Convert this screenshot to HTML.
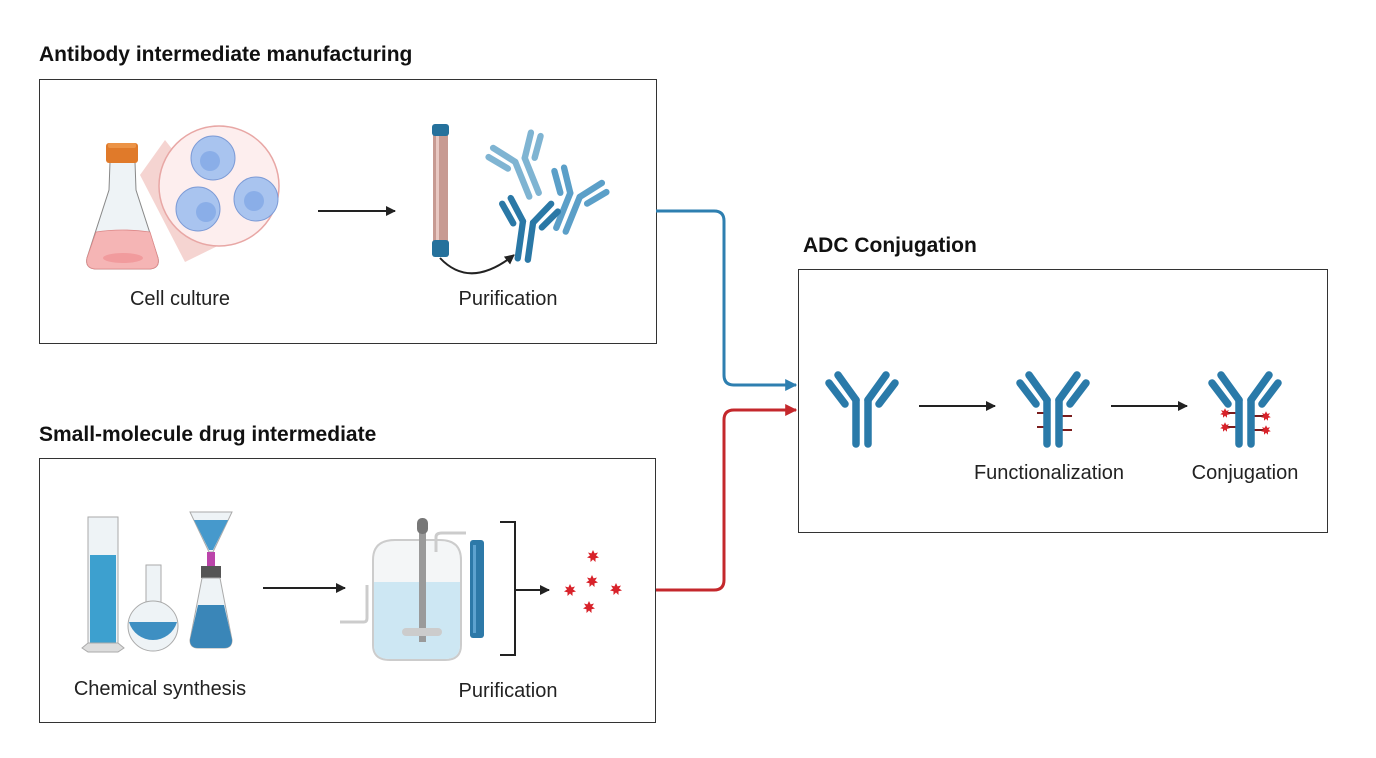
<!DOCTYPE html>
<html><head><meta charset="utf-8"><style>
html,body{margin:0;padding:0;background:#fff;}
svg{display:block;font-family:"Liberation Sans",sans-serif;}
</style></head><body>
<svg width="1376" height="758" viewBox="0 0 1376 758" xmlns="http://www.w3.org/2000/svg">
<defs>
<g id="ab">
  <line x1="-6" y1="0" x2="-6" y2="44" stroke-width="7.5" stroke-linecap="round"/>
  <line x1="6" y1="0" x2="6" y2="44" stroke-width="7.5" stroke-linecap="round"/>
  <line x1="-6" y1="0" x2="-24" y2="-25" stroke-width="7.5" stroke-linecap="round"/>
  <line x1="6" y1="0" x2="24" y2="-25" stroke-width="7.5" stroke-linecap="round"/>
  <line x1="-33" y1="-17" x2="-17" y2="4" stroke-width="7.5" stroke-linecap="round"/>
  <line x1="33" y1="-17" x2="17" y2="4" stroke-width="7.5" stroke-linecap="round"/>
</g>
<g id="star">
  <polygon points="0,-6 1.6,-2.6 5,-3.5 3,-0.5 6,1.5 2.5,2.3 2.5,6 0,3.5 -2.5,6 -2.5,2.3 -6,1.5 -3,-0.5 -5,-3.5 -1.6,-2.6" fill="#d8222a"/>
</g>
<marker id="ah" viewBox="0 0 10 10" refX="9" refY="5" markerWidth="10" markerHeight="10" markerUnits="userSpaceOnUse" orient="auto"><path d="M0,0 L10,5 L0,10 z" fill="#222"/></marker>
<marker id="ahb" viewBox="0 0 10 10" refX="9" refY="5" markerWidth="12" markerHeight="12" markerUnits="userSpaceOnUse" orient="auto"><path d="M0,0 L10,5 L0,10 z" fill="#2e7fb0"/></marker>
<marker id="ahr" viewBox="0 0 10 10" refX="9" refY="5" markerWidth="12" markerHeight="12" markerUnits="userSpaceOnUse" orient="auto"><path d="M0,0 L10,5 L0,10 z" fill="#c4282c"/></marker>
</defs>

<!-- titles -->
<text x="39" y="61" font-size="21" font-weight="bold" fill="#111">Antibody intermediate manufacturing</text>
<text x="803" y="252" font-size="21" font-weight="bold" fill="#111">ADC Conjugation</text>
<text x="39" y="441" font-size="21" font-weight="bold" fill="#111">Small-molecule drug intermediate</text>

<!-- boxes -->
<rect x="39.5" y="79.5" width="617" height="264" fill="none" stroke="#333" stroke-width="1"/>
<rect x="39.5" y="458.5" width="616" height="264" fill="none" stroke="#333" stroke-width="1"/>
<rect x="798.5" y="269.5" width="529" height="263" fill="none" stroke="#333" stroke-width="1"/>

<!-- connectors -->
<path d="M656,211 H714 Q724,211 724,221 V375 Q724,385 734,385 H796" fill="none" stroke="#2e7fb0" stroke-width="3" marker-end="url(#ahb)"/>
<path d="M656,590 H714 Q724,590 724,580 V420 Q724,410 734,410 H796" fill="none" stroke="#c4282c" stroke-width="3" marker-end="url(#ahr)"/>

<!-- Box1: flask -->
<polygon points="140,175 165,140 240,235 185,262" fill="#f2c9c6" opacity="0.8"/>
<circle cx="219" cy="186" r="60" fill="#fdeeee" stroke="#e8a7a5" stroke-width="1.5"/>
<circle cx="213" cy="158" r="22" fill="#a9c4ef" stroke="#7d9bd6"/><circle cx="210" cy="161" r="10" fill="#8aaee8"/>
<circle cx="198" cy="209" r="22" fill="#a9c4ef" stroke="#7d9bd6"/><circle cx="206" cy="212" r="10" fill="#8aaee8"/>
<circle cx="256" cy="199" r="22" fill="#a9c4ef" stroke="#7d9bd6"/><circle cx="254" cy="201" r="10" fill="#8aaee8"/>
<path d="M110,162 L135,162 L136,190 L158,258 Q160,268 150,269 L95,269 Q85,268 87,258 L109,190 Z" fill="#eef3f6" stroke="#888" stroke-width="1"/>
<path d="M96,232 Q122,228 150,232 L158,258 Q160,268 150,269 L95,269 Q85,268 87,258 Z" fill="#f5b5b5" stroke="#d88" stroke-width="0.8"/>
<ellipse cx="123" cy="258" rx="20" ry="5" fill="#f19b9d"/>
<rect x="106" y="143" width="32" height="20" rx="3" fill="#e07a2a"/>
<rect x="108" y="143" width="28" height="5" rx="2" fill="#ec9346"/>
<!-- arrow -->
<line x1="318" y1="211" x2="395" y2="211" stroke="#222" stroke-width="2" marker-end="url(#ah)"/>
<!-- column -->
<rect x="433" y="132" width="15" height="112" fill="#c79a92"/>
<rect x="436" y="132" width="3" height="112" fill="#e8c8c2"/>
<rect x="432" y="124" width="17" height="12" rx="3" fill="#25719c"/>
<rect x="432" y="240" width="17" height="17" rx="3" fill="#25719c"/>
<path d="M440,258 Q470,290 514,255" fill="none" stroke="#222" stroke-width="2" marker-end="url(#ah)"/>
<g stroke="#7fb4d2"><use href="#ab" transform="translate(520,160) rotate(-22) scale(0.85)"/></g>
<g stroke="#5b9fc8"><use href="#ab" transform="translate(575,195) rotate(22) scale(0.85)"/></g>
<g stroke="#2a78a6"><use href="#ab" transform="translate(528,222) rotate(8) scale(0.85)"/></g>
<text x="180" y="305" font-size="20" fill="#222" text-anchor="middle">Cell culture</text>
<text x="508" y="305" font-size="20" fill="#222" text-anchor="middle">Purification</text>

<!-- Box2 -->
<rect x="88" y="517" width="30" height="128" fill="#eef3f6" stroke="#aaa"/>
<rect x="90" y="555" width="26" height="88" fill="#3da0cf"/>
<path d="M82,648 L88,643 L118,643 L124,648 L118,652 L88,652 Z" fill="#ddd" stroke="#aaa"/>
<rect x="146" y="565" width="15" height="40" fill="#eef3f6" stroke="#aaa"/>
<circle cx="153" cy="626" r="25" fill="#eef3f6" stroke="#aaa"/>
<path d="M129,622 H177 A25,25 0 0 1 129,622 Z" fill="#3e8fc2"/>
<path d="M190,512 H232 L213,552 H209 Z" fill="#eef3f6" stroke="#aaa"/>
<path d="M194,520 H228 L213,550 H209 Z" fill="#4699cc"/>
<rect x="207" y="552" width="8" height="14" fill="#b4a"/>
<rect x="201" y="566" width="20" height="12" fill="#555"/>
<path d="M202,578 H220 L232,640 Q232,648 224,648 H198 Q190,648 190,640 Z" fill="#eef3f6" stroke="#aaa"/>
<path d="M198,605 H224 L232,640 Q232,648 224,648 H198 Q190,648 190,640 Z" fill="#3a86b8"/>
<line x1="263" y1="588" x2="345" y2="588" stroke="#222" stroke-width="2" marker-end="url(#ah)"/>
<!-- reactor -->
<path d="M373,560 Q373,540 395,540 H440 Q461,540 461,560 V645 Q461,660 445,660 H390 Q373,660 373,645 Z" fill="#f4f6f7" stroke="#ccc" stroke-width="2"/>
<path d="M374,582 H460 V645 Q460,659 445,659 H390 Q374,659 374,645 Z" fill="#cde7f3"/>
<rect x="419" y="522" width="7" height="120" fill="#9a9a9a"/>
<rect x="417" y="518" width="11" height="16" rx="5" fill="#777"/>
<rect x="402" y="628" width="40" height="8" rx="4" fill="#ccc"/>
<path d="M436,552 V537 Q436,533 442,533 H466" fill="none" stroke="#ccc" stroke-width="3"/>
<path d="M340,622 H364 Q367,622 367,618 V585" fill="none" stroke="#ccc" stroke-width="3"/>
<rect x="470" y="540" width="14" height="98" rx="3" fill="#2d79a8"/>
<rect x="473" y="545" width="3" height="88" fill="#5da2cf"/>
<path d="M500,522 H515 V655 H500" fill="none" stroke="#222" stroke-width="2"/>
<line x1="515" y1="590" x2="549" y2="590" stroke="#222" stroke-width="2" marker-end="url(#ah)"/>
<use href="#star" transform="translate(593,556)"/>
<use href="#star" transform="translate(592,581)"/>
<use href="#star" transform="translate(570,590)"/>
<use href="#star" transform="translate(616,589)"/>
<use href="#star" transform="translate(589,607)"/>
<text x="160" y="695" font-size="20" fill="#222" text-anchor="middle">Chemical synthesis</text>
<text x="508" y="697" font-size="20" fill="#222" text-anchor="middle">Purification</text>

<!-- ADC -->
<g stroke="#2a7aa9"><use href="#ab" transform="translate(862,400)"/></g>
<line x1="919" y1="406" x2="995" y2="406" stroke="#222" stroke-width="2" marker-end="url(#ah)"/>
<g stroke="#7a1c1c" stroke-width="2"><line x1="1037" y1="413" x2="1047" y2="413"/><line x1="1037" y1="427" x2="1047" y2="427"/><line x1="1059" y1="416" x2="1072" y2="416"/><line x1="1059" y1="430" x2="1072" y2="430"/></g>
<g stroke="#2a7aa9"><use href="#ab" transform="translate(1053,400)"/></g>
<line x1="1111" y1="406" x2="1187" y2="406" stroke="#222" stroke-width="2" marker-end="url(#ah)"/>
<g stroke="#7a1c1c" stroke-width="2"><line x1="1227" y1="413" x2="1239" y2="413"/><line x1="1227" y1="427" x2="1239" y2="427"/><line x1="1251" y1="416" x2="1265" y2="416"/><line x1="1251" y1="430" x2="1265" y2="430"/></g>
<g stroke="#2a7aa9"><use href="#ab" transform="translate(1245,400)"/></g>
<use href="#star" transform="translate(1225,413) scale(0.8)"/>
<use href="#star" transform="translate(1225,427) scale(0.8)"/>
<use href="#star" transform="translate(1266,416) scale(0.8)"/>
<use href="#star" transform="translate(1266,430) scale(0.8)"/>
<text x="1049" y="479" font-size="20" fill="#222" text-anchor="middle">Functionalization</text>
<text x="1245" y="479" font-size="20" fill="#222" text-anchor="middle">Conjugation</text>
</svg>
</body></html>
